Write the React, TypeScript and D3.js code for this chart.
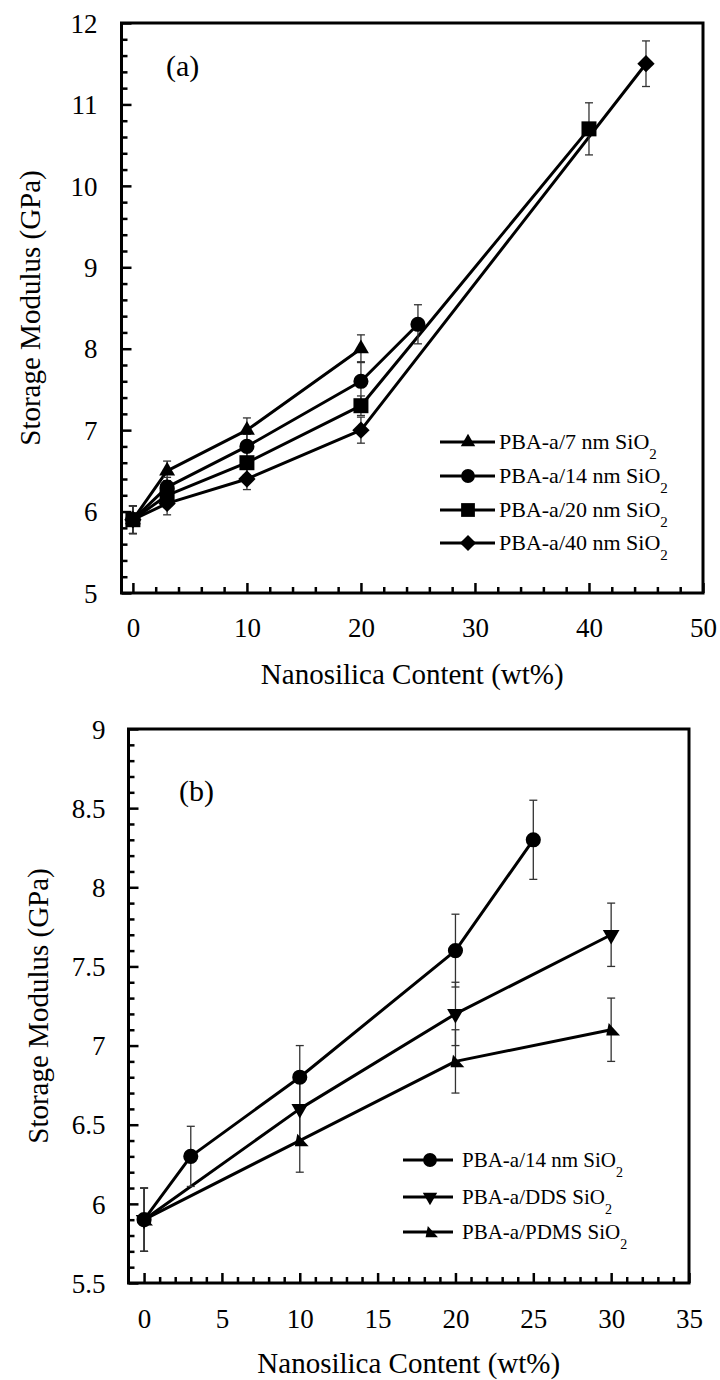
import React, { useEffect, useRef } from "react";
import * as d3 from "d3";

const W = 720;
const H = 1380;
const FONT = "Liberation Serif, Times New Roman, Tinos, DejaVu Serif, Noto Serif, serif";

// ---------- Panel (a) data ----------
const a7x = [0, 3, 10, 20];
const a7y = [5.9, 6.5, 7.0, 8.0];
const a7e = [0.17, 0.12, 0.15, 0.17];
const a14x = [0, 3, 10, 20, 25];
const a14y = [5.9, 6.3, 6.8, 7.6, 8.3];
const a14e = [0.17, 0.12, 0.15, 0.24, 0.24];
const a20x = [0, 3, 10, 20, 40];
const a20y = [5.9, 6.2, 6.6, 7.3, 10.7];
const a20e = [0.17, 0.12, 0.15, 0.12, 0.32];
const a40x = [0, 3, 10, 20, 45];
const a40y = [5.9, 6.1, 6.4, 7.0, 11.5];
const a40e = [0.17, 0.14, 0.13, 0.16, 0.28];
const aNames = ["PBA-a/7 nm SiO", "PBA-a/14 nm SiO", "PBA-a/20 nm SiO", "PBA-a/40 nm SiO"];
const aXTicks = [0, 10, 20, 30, 40, 50];
const aYTicks = [5, 6, 7, 8, 9, 10, 11, 12];

// ---------- Panel (b) data ----------
const b14x = [0, 3, 10, 20, 25];
const b14y = [5.9, 6.3, 6.8, 7.6, 8.3];
const b14e = [0.2, 0.19, 0.2, 0.23, 0.25];
const bDDSx = [0, 10, 20, 30];
const bDDSy = [5.9, 6.6, 7.2, 7.7];
const bDDSe = [0.2, 0.2, 0.2, 0.2];
const bPDMSx = [0, 10, 20, 30];
const bPDMSy = [5.9, 6.4, 6.9, 7.1];
const bPDMSe = [0.2, 0.2, 0.2, 0.2];
const bNames = ["PBA-a/14 nm SiO", "PBA-a/DDS SiO", "PBA-a/PDMS SiO"];
const bXTicks = [0, 5, 10, 15, 20, 25, 30, 35];
const bYTicks = [5.5, 6, 6.5, 7, 7.5, 8, 8.5, 9];

const xTitle = "Nanosilica Content (wt%)";
const yTitle = "Storage Modulus (GPa)";

// custom marker types
const symPDMS = {
  draw(ctx: any, size: number) {
    const r = Math.sqrt(size) / 2;
    ctx.moveTo(-0.4 * r, -1.1 * r);
    ctx.lineTo(1.45 * r, 0.95 * r);
    ctx.lineTo(-0.8 * r, 0.95 * r);
    ctx.closePath();
  },
};

function markerPath(shape: string, size: number) {
  switch (shape) {
    case "circle":
      return { d: d3.symbol().type(d3.symbolCircle).size(size)()!, rot: 0 };
    case "square":
      return { d: d3.symbol().type(d3.symbolSquare).size(size)()!, rot: 0 };
    case "diamond":
      return { d: d3.symbol().type(d3.symbolSquare).size(size)()!, rot: 45 };
    case "triUp":
      return { d: d3.symbol().type(d3.symbolTriangle).size(size)()!, rot: 0 };
    case "triDown":
      return { d: d3.symbol().type(d3.symbolTriangle).size(size)()!, rot: 180 };
    case "pdms":
      return { d: d3.symbol().type(symPDMS as any).size(size)()!, rot: 0 };
  }
  return { d: "", rot: 0 };
}

type Series = { x: number[]; y: number[]; e: number[]; shape: string; size: number; legSize: number; name: string };

type Panel = {
  left: number; right: number; top: number; bottom: number;
  xDomain: [number, number]; yDomain: [number, number];
  xMajor: number[]; xMinor: number[]; yMajor: number[]; yMinor: number[];
  series: Series[];
  leg: { x0: number; x1: number; xm: number; xt: number; rows: number[]; font: number };
  tag: { text: string; x: number; y: number };
  yTitleX: number; xLabelY: number; xTitleY: number; yLabelGap: number;
};

function drawPanel(svg: any, p: Panel) {
  const x = d3.scaleLinear().domain(p.xDomain).range([p.left, p.right]);
  const y = d3.scaleLinear().domain(p.yDomain).range([p.bottom, p.top]);
  const g = svg.append("g").attr("font-family", FONT);

  // minor ticks
  g.append("g").attr("transform", `translate(0,${p.bottom})`)
    .call(d3.axisBottom(x).tickValues(p.xMinor).tickSize(-6).tickFormat(() => ""))
    .call((s: any) => s.select(".domain").remove());
  g.append("g").attr("transform", `translate(${p.left},0)`)
    .call(d3.axisLeft(y).tickValues(p.yMinor).tickSize(-6).tickFormat(() => ""))
    .call((s: any) => s.select(".domain").remove());

  // major ticks + labels
  const gx = g.append("g").attr("transform", `translate(0,${p.bottom})`)
    .call(d3.axisBottom(x).tickValues(p.xMajor).tickSize(-10).tickFormat((d: any) => String(d)));
  gx.select(".domain").remove();
  gx.attr("font-family", FONT).attr("font-size", 27);
  gx.selectAll("text").attr("y", p.xLabelY - p.bottom).attr("dy", null)
    .style("font-size", "27px").style("font-family", FONT).attr("fill", "#000");

  const gy = g.append("g").attr("transform", `translate(${p.left},0)`)
    .call(d3.axisLeft(y).tickValues(p.yMajor).tickSize(-10).tickFormat((d: any) => String(d)));
  gy.select(".domain").remove();
  gy.attr("font-family", FONT).attr("font-size", 27);
  gy.selectAll("text").attr("x", -p.yLabelGap).attr("dy", "0.34em")
    .style("font-size", "27px").style("font-family", FONT).attr("fill", "#000");

  g.selectAll(".tick line").attr("stroke", "#000").attr("stroke-width", 2.5);

  // frame
  g.append("rect").attr("x", p.left).attr("y", p.top)
    .attr("width", p.right - p.left).attr("height", p.bottom - p.top)
    .attr("fill", "none").attr("stroke", "#000").attr("stroke-width", 3);

  // lines
  const line = d3.line<number>();
  p.series.forEach((s) => {
    const pts: [number, number][] = s.x.map((xv, i) => [x(xv), y(s.y[i])]);
    g.append("path").attr("d", line(pts as any)).attr("fill", "none")
      .attr("stroke", "#000").attr("stroke-width", 3).attr("stroke-linejoin", "round");
  });

  // error bars
  p.series.forEach((s) => {
    s.x.forEach((xv, i) => {
      const cx = x(xv);
      const y1 = y(s.y[i] + s.e[i]);
      const y2 = y(s.y[i] - s.e[i]);
      const eb = g.append("g").attr("stroke", "#333").attr("stroke-width", 1.3);
      eb.append("line").attr("x1", cx).attr("x2", cx).attr("y1", y1).attr("y2", y2);
      eb.append("line").attr("x1", cx - 4).attr("x2", cx + 4).attr("y1", y1).attr("y2", y1);
      eb.append("line").attr("x1", cx - 4).attr("x2", cx + 4).attr("y1", y2).attr("y2", y2);
    });
  });

  // markers
  p.series.forEach((s) => {
    const m = markerPath(s.shape, s.size);
    s.x.forEach((xv, i) => {
      g.append("path").attr("d", m.d)
        .attr("transform", `translate(${x(xv)},${y(s.y[i])}) rotate(${m.rot})`)
        .attr("fill", "#000");
    });
  });

  // legend
  p.series.forEach((s, i) => {
    const ry = p.leg.rows[i];
    g.append("line").attr("x1", p.leg.x0).attr("x2", p.leg.x1).attr("y1", ry).attr("y2", ry)
      .attr("stroke", "#000").attr("stroke-width", 3);
    const m = markerPath(s.shape, s.legSize);
    g.append("path").attr("d", m.d).attr("transform", `translate(${p.leg.xm},${ry}) rotate(${m.rot})`).attr("fill", "#000");
    const t = g.append("text").attr("x", p.leg.xt).attr("y", ry).attr("dy", "0.34em")
      .style("font-family", FONT).style("font-size", `${p.leg.font}px`).attr("fill", "#000");
    t.append("tspan").text(s.name);
    t.append("tspan").style("font-size", `${Math.round(p.leg.font * 0.68)}px`).attr("dy", p.leg.font * 0.45).text("2");
  });

  // panel tag
  g.append("text").attr("x", p.tag.x).attr("y", p.tag.y)
    .style("font-family", FONT).style("font-size", "30px").attr("fill", "#000").text(p.tag.text);

  // axis titles
  g.append("text").attr("x", (p.left + p.right) / 2).attr("y", p.xTitleY)
    .attr("text-anchor", "middle").style("font-family", FONT).style("font-size", "29px")
    .attr("fill", "#000").text(xTitle);
  g.append("text").attr("transform", `translate(${p.yTitleX},${(p.top + p.bottom) / 2}) rotate(-90)`)
    .attr("text-anchor", "middle").style("font-family", FONT).style("font-size", "29px")
    .attr("fill", "#000").text(yTitle);
}

function rangeMinor(start: number, end: number, step: number, major: number) {
  const n = Math.round((end - start) / step);
  return d3.range(0, n + 1).map((i) => +(start + i * step).toFixed(4))
    .filter((v) => Math.abs(v / major - Math.round(v / major)) > 1e-6);
}

const panelA: Panel = {
  left: 121.5, right: 703, top: 23, bottom: 593,
  xDomain: [-1, 50], yDomain: [5, 12],
  xMajor: aXTicks, xMinor: rangeMinor(0, 50, 2, 10),
  yMajor: aYTicks, yMinor: rangeMinor(5, 12, 0.2, 1),
  series: [
    { x: a7x, y: a7y, e: a7e, shape: "triUp", size: 110, legSize: 90, name: aNames[0] },
    { x: a14x, y: a14y, e: a14e, shape: "circle", size: 180, legSize: 150, name: aNames[1] },
    { x: a20x, y: a20y, e: a20e, shape: "square", size: 225, legSize: 190, name: aNames[2] },
    { x: a40x, y: a40y, e: a40e, shape: "diamond", size: 150, legSize: 130, name: aNames[3] },
  ],
  leg: { x0: 440, x1: 495, xm: 468, xt: 499, rows: [442, 476, 510, 543], font: 22 },
  tag: { text: "(a)", x: 166, y: 76 },
  yTitleX: 40, xLabelY: 637, xTitleY: 684, yLabelGap: 24,
};

const panelB: Panel = {
  left: 128.5, right: 689, top: 729, bottom: 1283,
  xDomain: [-1, 35], yDomain: [5.5, 9],
  xMajor: bXTicks, xMinor: rangeMinor(0, 35, 1, 5),
  yMajor: bYTicks, yMinor: rangeMinor(5.5, 9, 0.1, 0.5),
  series: [
    { x: b14x, y: b14y, e: b14e, shape: "circle", size: 180, legSize: 150, name: bNames[0] },
    { x: bDDSx, y: bDDSy, e: bDDSe, shape: "triDown", size: 120, legSize: 90, name: bNames[1] },
    { x: bPDMSx, y: bPDMSy, e: bPDMSe, shape: "pdms", size: 150, legSize: 120, name: bNames[2] },
  ],
  leg: { x0: 403, x1: 453, xm: 430, xt: 462, rows: [1160, 1197, 1232], font: 21 },
  tag: { text: "(b)", x: 179, y: 801 },
  yTitleX: 48, xLabelY: 1328, xTitleY: 1373, yLabelGap: 23,
};

export default function App() {
  const ref = useRef<SVGSVGElement>(null);
  useEffect(() => {
    const svg = d3.select(ref.current);
    svg.selectAll("*").remove();
    drawPanel(svg, panelA);
    drawPanel(svg, panelB);
  }, []);
  return (
    <svg
      ref={ref}
      width={W}
      height={H}
      style={{ position: "absolute", left: 0, top: 0, background: "#fff", display: "block" }}
    />
  );
}
